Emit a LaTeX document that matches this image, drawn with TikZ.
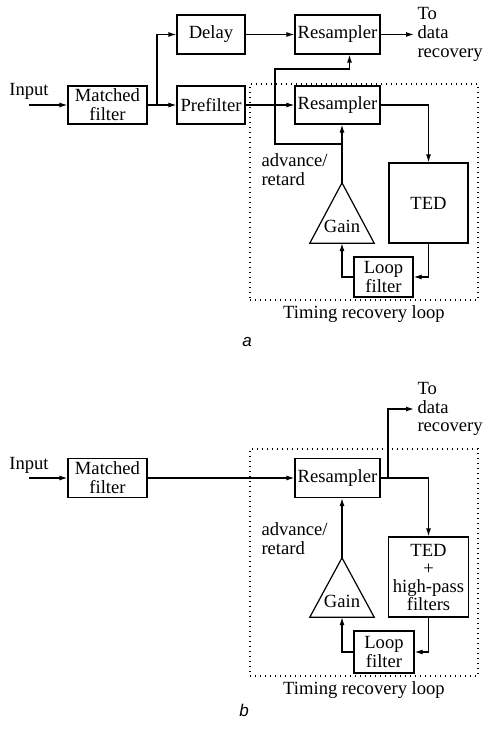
\documentclass[tikz,border=0pt]{standalone}
\usepackage{fontspec}
\setmainfont{Liberation Serif}
\newfontfamily\figlabel{Liberation Sans}
\usetikzlibrary{positioning,arrows.meta}

\begin{document}
\begin{tikzpicture}[x=1pt, y=-1pt,
  font=\fontsize{18.6}{18.8}\selectfont,
  block/.style={draw, line width=1.2pt, inner sep=0pt, align=center},
  tri/.style={inner sep=0pt},
  frm/.style={draw, line width=1.1pt, dash pattern=on 1.2pt off 3.8pt, inner sep=0pt},
  arr/.style={line width=1.2pt, -{Latex[length=8pt,width=5pt]}},
  sub/.style={font=\fontsize{17}{17}\selectfont\figlabel\itshape},
  ]
  \useasboundingbox (0,0) rectangle (485,738);

  % (a) separate resampler for data path
  \node (inA) at (29,91) {Input};
  \node[block, minimum width=79pt, minimum height=38pt] (mfA) at (107.5,105) {Matched\\filter};
  \node[block, minimum width=68pt, minimum height=39pt] (delay) at (211,34.5) {Delay};
  \node[block, minimum width=68pt, minimum height=38pt] (pref) at (211,105) {Prefilter};
  \node[block, minimum width=85pt, minimum height=39pt] (rs1) at (337.5,34.5) {Resampler};
  \node[block, minimum width=85pt, minimum height=38pt] (rs2) at (337.5,105) {Resampler};
  \node[block, minimum width=79pt, minimum height=80pt] (tedA) at (428.5,203) {TED};
  \node[tri, minimum width=64pt, minimum height=60pt] (gainA) at (342,213) {};
  \draw[line width=1.2pt] (gainA.north) -- (gainA.south west) -- (gainA.south east) -- cycle;
  \node at (342,226) {Gain};
  \node[block, minimum width=59pt, minimum height=40pt] (lfA) at (383.5,277) {Loop\\filter};
  \node[frm, minimum width=228pt, minimum height=216pt] (loopA) at (364,192) {};
  \node[below=2pt of loopA] {Timing recovery loop};
  \node[anchor=north west, align=left] (advA) at (258,150) {advance/\\retard};
  \node[anchor=west, align=left] (outA) at (414,34.5) {To\\data\\recovery};
  \node[sub] at (247,342) {a};

  \coordinate (brA) at (157,105);
  \coordinate (tapA) at (342,144);
  \coordinate (bendA) at (275,69);
  \draw[arr] (inA.south |- mfA.west) -- (mfA);
  \draw[line width=1.2pt] (mfA) -- (brA);
  \draw[arr] (brA) |- (delay);
  \draw[arr] (brA) -- (pref);
  \draw[arr] (delay) -- (rs1);
  \draw[arr] (pref) -- (rs2);
  \draw[arr] (rs1) -- (outA);
  \draw[arr] (rs2) -| (tedA);
  \draw[arr] (tedA) |- (lfA);
  \draw[arr] (lfA) -| (gainA.south);
  \draw[arr] (gainA.north) -- (gainA.north |- rs2.south);
  \draw[arr] (tapA) -| (bendA) -| ([xshift=12pt]rs1.south);

  % (b) one resampler, output taken after it
  \node (inB) at (29,465) {Input};
  \node[block, minimum width=79pt, minimum height=39pt] (mfB) at (107.5,478) {Matched\\filter};
  \node[block, minimum width=85pt, minimum height=39pt] (rsB) at (337.5,478) {Resampler};
  \node[block, minimum width=80pt, minimum height=80pt, font=\fontsize{18.6}{18}\selectfont]
        (tedB) at (428.5,577) {TED\\+\\high-pass\\filters};
  \node[tri, minimum width=64pt, minimum height=59pt] (gainB) at (342,587.5) {};
  \draw[line width=1.2pt] (gainB.north) -- (gainB.south west) -- (gainB.south east) -- cycle;
  \node at (342,601) {Gain};
  \node[block, minimum width=60pt, minimum height=42pt] (lfB) at (384,652) {Loop\\filter};
  \node[frm, minimum width=228pt, minimum height=227pt] (loopB) at (364,562.5) {};
  \node[below=2pt of loopB] {Timing recovery loop};
  \node[anchor=north west, align=left] (advB) at (258,519) {advance/\\retard};
  \node[anchor=west, align=left] (outB) at (414,409) {To\\data\\recovery};
  \node[sub] at (244,710) {b};

  \coordinate (tapB) at (388,478);
  \draw[arr] (inB.south |- mfB.west) -- (mfB);
  \draw[arr] (mfB) -- (rsB);
  \draw[arr] (rsB) -| (tedB);
  \draw[arr] (tapB) |- (outB);
  \draw[arr] (tedB) |- (lfB);
  \draw[arr] (lfB) -| (gainB.south);
  \draw[arr] (gainB.north) -- (gainB.north |- rsB.south);
\end{tikzpicture}
\end{document}
